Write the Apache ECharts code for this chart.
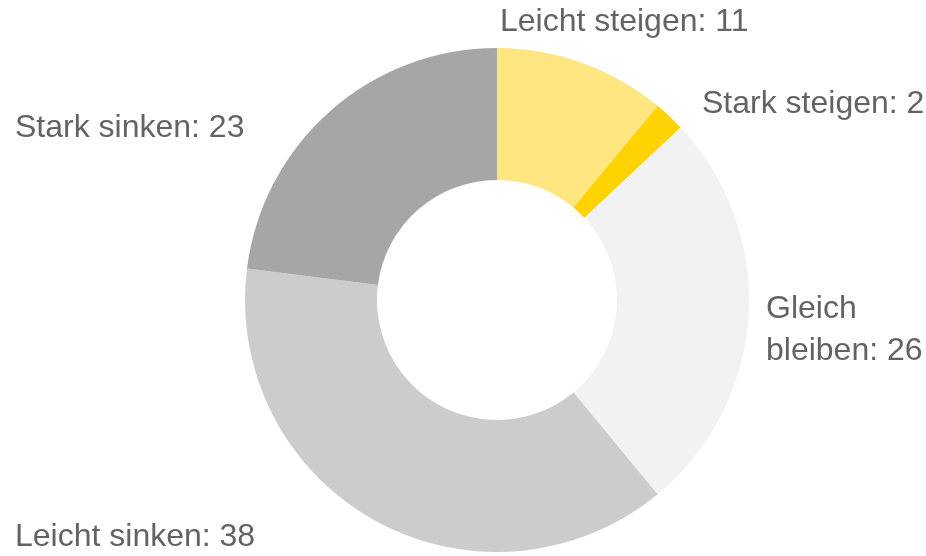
<!DOCTYPE html>
<html>
<head>
<meta charset="utf-8">
<script src="https://cdn.jsdelivr.net/npm/echarts@6/dist/echarts.min.js"></script>
<style>
  html, body { margin: 0; padding: 0; background: #fff; }
  #main { width: 926px; height: 556px; }
</style>
</head>
<body>
<div id="main"></div>
<script>
var categories = ['Leicht steigen', 'Stark steigen', 'Gleich\nbleiben', 'Leicht sinken', 'Stark sinken'];
var values = [11, 2, 26, 38, 23];
var colors = ['#FFE680', '#FFD200', '#F2F2F2', '#CCCCCC', '#A6A6A6'];

// label anchor (left, middle) for each slice
var labelAt = [[500, 22], [702, 104], [766, 330], [15, 537], [15, 128]];

var myChart = echarts.init(document.getElementById('main'));

var option = {
  animation: false,
  series: [{
    type: 'pie',
    center: [497, 300],
    radius: [120, 252],
    startAngle: 90,
    clockwise: true,
    data: categories.map(function (c, i) {
      return { name: c, value: values[i], itemStyle: { color: colors[i] } };
    }),
    label: {
      show: true,
      formatter: '{b}: {c}',
      color: '#636363',
      fontFamily: 'Liberation Sans, Arial, sans-serif',
      fontSize: 32,
      lineHeight: 42,
      overflow: 'none',
      width: 400
    },
    labelLine: { show: false },
    labelLayout: function (params) {
      var p = labelAt[params.dataIndex];
      return { x: p[0], y: p[1], align: 'left', verticalAlign: 'middle' };
    },
    emphasis: { disabled: true }
  }]
};

myChart.setOption(option);
</script>
</body>
</html>
